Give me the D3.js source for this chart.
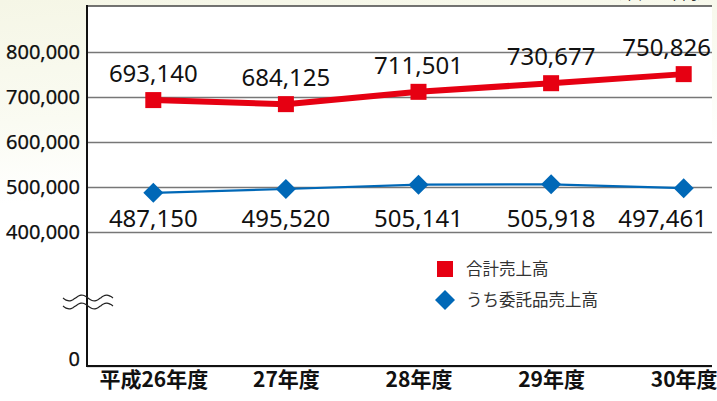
<html lang="ja">
<head>
    <meta charset="UTF-8">
    <title>売上高の推移</title>
    <script src="https://cdn.jsdelivr.net/npm/d3@7"></script>
    <style>
        body{
            margin:0;
            background:#fff;
        }
        .num{
            font-family: "Noto Sans", sans-serif;
            fill:#111;
        }
        .jp{
            font-family: "Noto Sans CJK JP", sans-serif;
        }
        .grid line{
            stroke:#777;
            stroke-width:1.6px;
        }
    </style>
</head>
<body>
    <svg id="svg"></svg>
    <script>
        var WIDTH = 717;
        var HEIGHT = 401;
        var LEFT = 87;
        var RIGHT = 712;
        var TOP = 6;
        var BOTTOM = 366;

        // data
        var years = ["平成26年度", "27年度", "28年度", "29年度", "30年度"];
        var totalSales = [693140, 684125, 711501, 730677, 750826];
        var consignSales = [487150, 495520, 505141, 505918, 497461];
        var yTicks = [0, 400000, 500000, 600000, 700000, 800000];
        var seriesNames = ["合計売上高", "うち委託品売上高"];

        var RED = "#e60012";
        var BLUE = "#0068b7";

        var svg = d3.select("#svg")
                    .attr("width", WIDTH)
                    .attr("height", HEIGHT);

        // background, cream fading to white
        var defs = svg.append("defs");
        var grad = defs.append("linearGradient")
                       .attr("id", "bg")
                       .attr("x1", 0).attr("y1", 0)
                       .attr("x2", 0.15).attr("y2", 1);
        grad.append("stop").attr("offset", "0").attr("stop-color", "#f5f6e6");
        grad.append("stop").attr("offset", "0.3").attr("stop-color", "#fafbf2");
        grad.append("stop").attr("offset", "0.5").attr("stop-color", "#ffffff");

        svg.append("rect")
           .attr("width", WIDTH)
           .attr("height", HEIGHT)
           .attr("fill", "url(#bg)");

        svg.append("rect")
           .attr("x", LEFT)
           .attr("y", TOP)
           .attr("width", RIGHT - LEFT)
           .attr("height", BOTTOM - TOP)
           .attr("fill", "#fff");

        // scales (broken y axis: 0 then 400,000 upward)
        var xScale = d3.scalePoint()
                       .domain(years)
                       .range([LEFT, 750])
                       .padding(0.5);

        var yScale = d3.scaleLinear()
                       .domain([0, 400000, 900000])
                       .range([BOTTOM, 232, 7]);

        // unit label, mostly cut off at the top (as in the original)
        svg.append("text")
           .attr("class", "jp")
           .attr("x", RIGHT)
           .attr("y", -1)
           .attr("text-anchor", "end")
           .attr("font-size", 15)
           .attr("fill", "#333")
           .text("（単位：千円）");

        // gridlines + y labels
        var yAxis = d3.axisLeft(yScale)
                      .tickValues(yTicks)
                      .tickSize(-(RIGHT - LEFT))
                      .tickPadding(7)
                      .tickFormat(d3.format(","));

        var gy = svg.append("g")
                    .attr("class", "grid")
                    .attr("transform", "translate(" + LEFT + ",0)")
                    .call(yAxis);
        gy.select(".domain").remove();
        gy.selectAll("text")
          .attr("class", "num")
          .attr("font-size", 20)
          .attr("fill", "#000")
          .attr("stroke", "#000")
          .attr("stroke-width", 0.25);
        // the 0 label sits just above the baseline
        gy.selectAll(".tick")
          .filter(function(d){ return d === 0; })
          .select("text")
          .attr("dy", "-0.05em");

        // top frame line
        svg.append("line")
           .attr("x1", LEFT).attr("x2", RIGHT)
           .attr("y1", TOP).attr("y2", TOP)
           .attr("stroke", "#444")
           .attr("stroke-width", 1.6);

        // x axis
        var xAxis = d3.axisBottom(xScale)
                      .tickSize(0)
                      .tickPadding(6);
        var gx = svg.append("g")
                    .attr("transform", "translate(0," + BOTTOM + ")")
                    .call(xAxis);
        gx.select(".domain").remove();
        gx.selectAll("text")
          .attr("class", "jp")
          .attr("font-size", 21)
          .attr("font-weight", "bold")
          .attr("fill", "#111");

        // axis lines
        svg.append("line")
           .attr("x1", LEFT).attr("x2", RIGHT)
           .attr("y1", BOTTOM).attr("y2", BOTTOM)
           .attr("stroke", "#111")
           .attr("stroke-width", 2);
        svg.append("line")
           .attr("x1", LEFT).attr("x2", LEFT)
           .attr("y1", TOP - 1).attr("y2", BOTTOM + 1)
           .attr("stroke", "#111")
           .attr("stroke-width", 2);

        // break mark on the y axis
        var breakY = (yScale(0) + yScale(400000)) / 2 + 3;
        [-4, 4].forEach(function(off){
            svg.append("path")
               .attr("d", d3.line().curve(d3.curveBasis)(
                    d3.range(0, 51, 2).map(function(t){
                        return [LEFT - 24 + t, breakY + off + 3 * Math.sin(t / 50 * 4 * Math.PI)];
                    })))
               .attr("fill", "none")
               .attr("stroke", "#222")
               .attr("stroke-width", 1.2);
        });

        // total sales line (red)
        var line = d3.line()
                     .x(function(d, i){ return xScale(years[i]); })
                     .y(function(d){ return yScale(d); });

        svg.append("path")
           .datum(totalSales)
           .attr("d", line)
           .attr("fill", "none")
           .attr("stroke", RED)
           .attr("stroke-width", 6)
           .attr("stroke-linejoin", "round");

        svg.append("g")
           .selectAll("rect")
           .data(totalSales)
           .enter()
           .append("rect")
           .attr("x", function(d, i){ return xScale(years[i]) - 8; })
           .attr("y", function(d){ return yScale(d) - 8; })
           .attr("width", 16)
           .attr("height", 16)
           .attr("fill", RED);

        // consignment sales line (blue)
        svg.append("path")
           .datum(consignSales)
           .attr("d", line)
           .attr("fill", "none")
           .attr("stroke", BLUE)
           .attr("stroke-width", 2.2);

        var diamond = d3.symbol().type(d3.symbolSquare).size(200);
        svg.append("g")
           .selectAll("path")
           .data(consignSales)
           .enter()
           .append("path")
           .attr("d", diamond)
           .attr("transform", function(d, i){
               return "translate(" + xScale(years[i]) + "," + yScale(d) + ") rotate(45)";
           })
           .attr("fill", BLUE);

        // value labels, kept inside the plot at the right edge
        var fmt = d3.format(",");
        var labelX = function(x, w, maxRight){
            return Math.min(x, maxRight - w / 2);
        };

        svg.append("g")
           .selectAll("text")
           .data(totalSales)
           .enter()
           .append("text")
           .attr("class", "num")
           .attr("font-size", 24)
           .attr("text-anchor", "middle")
           .attr("y", function(d){ return yScale(d) - 18; })
           .text(function(d){ return fmt(d); })
           .attr("x", function(d, i){
               return labelX(xScale(years[i]), this.getComputedTextLength(), 711);
           });

        svg.append("g")
           .selectAll("text")
           .data(consignSales)
           .enter()
           .append("text")
           .attr("class", "num")
           .attr("font-size", 24)
           .attr("text-anchor", "middle")
           .attr("y", yScale(500000) + 40)
           .text(function(d){ return fmt(d); })
           .attr("x", function(d, i){
               return labelX(xScale(years[i]), this.getComputedTextLength(), 707);
           });

        // legend
        var legend = svg.append("g")
                        .attr("transform", "translate(445,269)");

        legend.append("rect")
              .attr("x", -8).attr("y", -8)
              .attr("width", 16).attr("height", 16)
              .attr("fill", RED);
        legend.append("path")
              .attr("d", d3.symbol().type(d3.symbolSquare).size(200))
              .attr("transform", "translate(0,31) rotate(45)")
              .attr("fill", BLUE);

        legend.selectAll("text")
              .data(seriesNames)
              .enter()
              .append("text")
              .attr("class", "jp")
              .attr("x", 21)
              .attr("y", function(d, i){ return i * 31 + 6; })
              .attr("font-size", 16.5)
              .attr("fill", "#333")
              .text(function(d){ return d; });
    </script>
</body>
</html>
